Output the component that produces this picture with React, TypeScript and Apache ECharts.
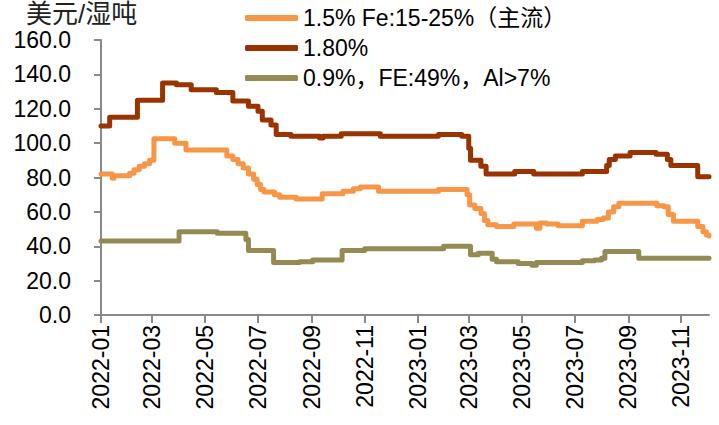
import React, { useEffect, useRef } from 'react';
import * as echarts from 'echarts';

const FONT = "'Liberation Sans', 'Noto Sans CJK SC', sans-serif";

const seriesNames = ['1.5% Fe:15-25%（主流）', '1.80%', '0.9%，FE:49%，Al>7%'];
const seriesColors = ['#F79646', '#993300', '#948A54'];

const orangeDates = ['2022-01-01', '2022-01-14', '2022-01-16', '2022-02-03', '2022-02-08', '2022-02-14', '2022-02-20', '2022-02-26', '2022-03-03', '2022-03-27', '2022-04-09', '2022-05-26', '2022-06-02', '2022-06-08', '2022-06-14', '2022-06-20', '2022-06-26', '2022-06-30', '2022-07-04', '2022-07-08', '2022-07-20', '2022-07-26', '2022-08-14', '2022-09-13', '2022-10-07', '2022-10-19', '2022-10-27', '2022-11-17', '2023-01-25', '2023-02-27', '2023-03-02', '2023-03-08', '2023-03-15', '2023-03-19', '2023-03-23', '2023-04-02', '2023-04-22', '2023-05-18', '2023-05-22', '2023-05-30', '2023-06-12', '2023-07-10', '2023-07-27', '2023-08-03', '2023-08-09', '2023-08-15', '2023-08-21', '2023-10-04', '2023-10-12', '2023-10-17', '2023-10-23', '2023-11-20', '2023-11-26', '2023-11-30', '2023-12-03'];
const orangeValues = [82, 79.5, 81, 82.5, 84.5, 86.5, 88, 90, 102.5, 100, 96, 92.5, 90.5, 88, 85.5, 82, 79, 76, 73, 71.5, 70, 68.5, 67.5, 70.5, 72, 73.5, 74.5, 72, 73, 70, 64, 62, 59, 55, 52.5, 51.5, 53, 50.5, 53.5, 53, 52, 54.5, 55.5, 56.5, 60, 63, 65, 63.5, 63, 58.5, 54.5, 51.5, 48.5, 46.5, 46];

const darkDates = ['2022-01-01', '2022-01-11', '2022-02-12', '2022-03-13', '2022-03-29', '2022-04-15', '2022-05-14', '2022-06-02', '2022-06-20', '2022-07-01', '2022-07-06', '2022-07-16', '2022-07-22', '2022-08-08', '2022-09-10', '2022-09-14', '2022-10-05', '2022-11-19', '2023-01-25', '2023-02-21', '2023-03-01', '2023-03-03', '2023-03-15', '2023-03-21', '2023-04-23', '2023-05-15', '2023-07-10', '2023-08-07', '2023-08-10', '2023-08-17', '2023-09-03', '2023-10-03', '2023-10-16', '2023-10-20', '2023-11-20', '2023-12-03'];
const darkValues = [110, 115, 125, 135, 134, 131, 129.5, 124.5, 121.5, 118.5, 113.5, 110.5, 105, 104, 103, 104, 105.5, 104, 105, 104, 97, 90, 86.5, 82, 83.5, 82, 83.5, 87, 90.5, 92.5, 94.5, 93.5, 90.5, 87, 80.5, 80.5];

const oliveDates = ['2022-01-01', '2022-04-01', '2022-05-15', '2022-06-17', '2022-06-20', '2022-07-19', '2022-08-18', '2022-09-02', '2022-10-06', '2022-11-01', '2023-01-31', '2023-03-03', '2023-03-12', '2023-03-28', '2023-04-02', '2023-04-27', '2023-05-13', '2023-05-18', '2023-07-10', '2023-07-24', '2023-08-01', '2023-08-05', '2023-09-13', '2023-12-03'];
const oliveValues = [43, 48.5, 47.5, 44, 37.5, 30.5, 31, 32, 37.5, 38.5, 40, 35, 36, 32.5, 31, 30, 29, 30.5, 31.5, 32, 33, 37, 33, 33];

const tickMonths = ['2022-01', '2022-03', '2022-05', '2022-07', '2022-09', '2022-11', '2023-01', '2023-03', '2023-05', '2023-07', '2023-09', '2023-11'];
const axisStart = '2022-01-01';
const axisEnd = '2023-12-03';

const yMin = 0;
const yMax = 160;
const yStep = 20;

function ts(s: string): number {
  const p = s.split('-').map(Number);
  return new Date(p[0], (p[1] || 1) - 1, p[2] || 1).getTime();
}

function pairs(dates: string[], values: number[]) {
  return dates.map((d, i) => [ts(d), values[i]]);
}

export default function App() {
  const ref = useRef<HTMLDivElement>(null);
  useEffect(() => {
    if (!ref.current) return;
    const chart = echarts.init(ref.current, undefined, { renderer: 'svg' });
    const tickValues = tickMonths.map((m) => ts(m));
    const axisColor = '#898989';
    const dataSets = [
      pairs(orangeDates, orangeValues),
      pairs(darkDates, darkValues),
      pairs(oliveDates, oliveValues),
    ];
    chart.setOption({
      animation: false,
      backgroundColor: '#ffffff',
      textStyle: { fontFamily: FONT },
      title: {
        text: '美元/湿吨',
        left: 26,
        top: 1,
        padding: 0,
        textStyle: { fontSize: 26, lineHeight: 26, fontWeight: 'normal', color: '#222', fontFamily: FONT },
      },
      legend: {
        orient: 'vertical',
        left: 240,
        top: 1,
        itemWidth: 53,
        itemHeight: 6,
        itemGap: 6,
        icon: 'roundRect',
        selectedMode: false,
        data: seriesNames,
        textStyle: { fontSize: 23, color: '#000', lineHeight: 24, fontFamily: FONT },
      },
      grid: { left: 101, right: 10, top: 40, bottom: 110, containLabel: false },
      xAxis: {
        type: 'value',
        min: ts(axisStart),
        max: ts(axisEnd),
        axisLine: { show: true, onZero: false, lineStyle: { color: axisColor, width: 2 } },
        axisTick: { show: true, customValues: tickValues, length: 8, lineStyle: { color: axisColor, width: 2 } },
        axisLabel: {
          show: true,
          customValues: tickValues,
          rotate: 90,
          margin: 10,
          fontSize: 23,
          color: '#000',
          fontFamily: FONT,
          formatter: (v: number) => {
            const d = new Date(v);
            return d.getFullYear() + '-' + String(d.getMonth() + 1).padStart(2, '0');
          },
        },
        splitLine: { show: false },
      },
      yAxis: {
        type: 'value',
        min: yMin,
        max: yMax,
        interval: yStep,
        axisLine: { show: true, lineStyle: { color: axisColor, width: 2 } },
        axisTick: { show: true, length: 7, lineStyle: { color: axisColor, width: 2 } },
        axisLabel: {
          fontSize: 23,
          margin: 30,
          color: '#000',
          fontFamily: FONT,
          formatter: (v: number) => v.toFixed(1),
        },
        splitLine: { show: false },
      },
      series: seriesNames.map((name, i) => ({
        name,
        type: 'line',
        step: 'end',
        symbol: 'none',
        data: dataSets[i],
        itemStyle: { color: seriesColors[i] },
        lineStyle: { width: 5, color: seriesColors[i], cap: 'round', join: 'round' },
      })),
    });
    return () => chart.dispose();
  }, []);
  return <div ref={ref} style={{ position: 'fixed', left: 0, top: 0, width: 719, height: 425 }} />;
}
